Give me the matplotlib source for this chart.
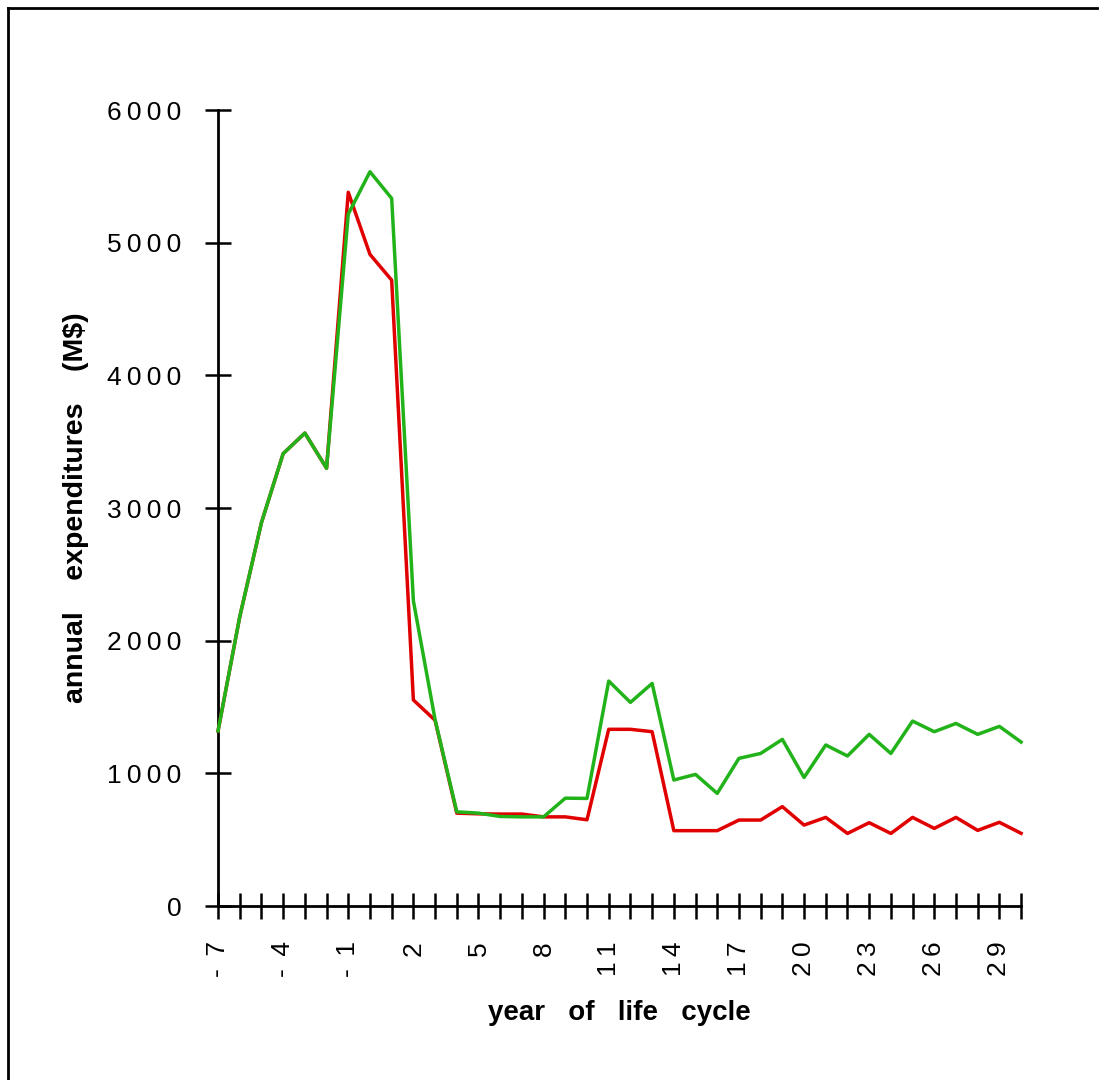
import matplotlib
matplotlib.use("Agg")
import matplotlib.pyplot as plt
from matplotlib.lines import Line2D
from matplotlib.ticker import FixedLocator, FixedFormatter

plt.rcParams["font.family"] = ["Liberation Sans", "DejaVu Sans"]

THIN = "\u2009"

# year of life cycle
years = [-7, -6, -5, -4, -3, -2, -1, 0, 1, 2, 3, 4, 5, 6, 7, 8, 9, 10, 11, 12,
         13, 14, 15, 16, 17, 18, 19, 20, 21, 22, 23, 24, 25, 26, 27, 28, 29, 30]

# annual expenditures (M$), two scenarios
red_vals = [1320, 2180, 2890, 3410, 3565, 3300, 5380, 4912, 4718, 1553,
            1400, 700, 695, 693, 693, 672, 672, 650, 1332, 1332,
            1314, 568, 568, 568, 648, 648, 749, 610, 668, 547,
            628, 547, 668, 585, 668, 570, 631, 548]
green_vals = [1320, 2180, 2890, 3410, 3565, 3300, 5216, 5535, 5334, 2301,
              1405, 710, 700, 675, 672, 672, 813, 811, 1696, 1535,
              1678, 950, 992, 849, 1113, 1150, 1256, 969, 1214, 1131,
              1294, 1150, 1394, 1314, 1376, 1294, 1354, 1236]

x_labeled = [-7, -4, -1, 2, 5, 8, 11, 14, 17, 20, 23, 26, 29]
y_ticks = [0, 1000, 2000, 3000, 4000, 5000, 6000]

RED = "#e00000"
GREEN = "#22b31a"


def spaced(s):
    if s.startswith("-"):
        return "- " + THIN + THIN.join(s[1:])
    return THIN.join(s)


fig = plt.figure(figsize=(11.04, 10.8), dpi=100)
fig.patch.set_facecolor("white")
ax = fig.add_axes([0.1975, 0.1611, 0.7274, 0.7370])

ax.plot(years, red_vals, color=RED, lw=2.5, clip_on=False, zorder=3)
ax.plot(years, green_vals, color=GREEN, lw=2.5, clip_on=False, zorder=4)

ax.set_xlim(-7, 30)
ax.set_ylim(0, 6000)

for side in ("top", "right"):
    ax.spines[side].set_visible(False)
for side in ("left", "bottom"):
    ax.spines[side].set_linewidth(2.0)
    ax.spines[side].set_color("black")

ax.xaxis.set_major_locator(FixedLocator(years))
ax.xaxis.set_major_formatter(FixedFormatter(
    [spaced(str(y)) if y in x_labeled else "" for y in years]))
ax.yaxis.set_major_locator(FixedLocator(y_ticks))
ax.yaxis.set_major_formatter(FixedFormatter([spaced(str(v)) for v in y_ticks]))

ax.tick_params(axis="both", direction="inout", length=18.7, width=1.8,
               color="black", labelsize=19)
ax.tick_params(axis="x", pad=16, labelrotation=90)
ax.tick_params(axis="y", pad=17)

ax.set_xlabel("year   of   life   cycle", fontsize=20, fontweight="bold",
              labelpad=16)
ax.set_ylabel("annual    expenditures    (M$)", fontsize=20.5, fontweight="bold",
              labelpad=13)

# outer frame (left and top edges visible)
fig.add_artist(Line2D([8 / 1104, 8 / 1104], [0, 1 - 8 / 1080],
                      transform=fig.transFigure, color="black", lw=2))
fig.add_artist(Line2D([8 / 1104, 1097 / 1104], [1 - 8 / 1080, 1 - 8 / 1080],
                      transform=fig.transFigure, color="black", lw=2))

fig.savefig("out.png", dpi=100)
